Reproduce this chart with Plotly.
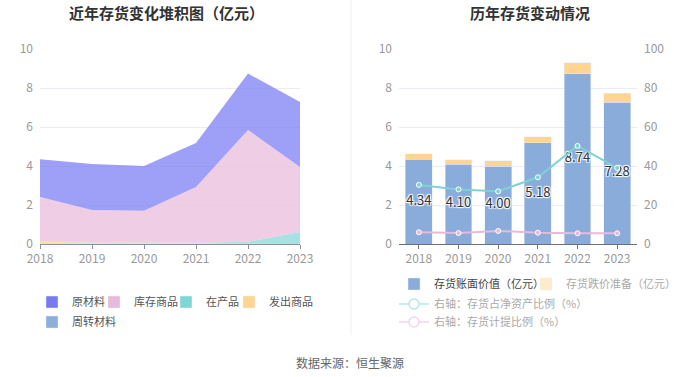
import plotly.graph_objects as go

years = ["2018", "2019", "2020", "2021", "2022", "2023"]

# left stacked area (亿元)
raw_material = [1.93, 2.36, 2.29, 2.26, 2.89, 3.33]     # 原材料
stock_goods = [2.26, 1.67, 1.65, 2.86, 5.74, 3.33]      # 库存商品
wip = [0.02, 0.01, 0.01, 0.04, 0.10, 0.62]              # 在产品
shipped = [0.13, 0.06, 0.05, 0.02, 0.01, 0.00]          # 发出商品
turnover = [0.00, 0.00, 0.00, 0.00, 0.00, 0.00]         # 周转材料

# right chart
book_value = [4.34, 4.10, 4.00, 5.18, 8.74, 7.28]       # 存货账面价值
impairment = [0.28, 0.22, 0.27, 0.32, 0.56, 0.45]       # 存货跌价准备
ratio_net_assets = [30.3, 28.0, 27.0, 34.2, 50.3, 39.0]  # 存货占净资产比例
provision_ratio = [6.0, 5.6, 6.7, 5.8, 5.5, 5.5]        # 存货计提比例

W, H = 700, 377
FONT = "Noto Sans CJK SC, sans-serif"


def px_x(p):
    return p / W


def px_y(p):
    return 1 - p / H


fig = go.Figure()

# ---------- left: stacked area ----------
area_specs = [
    ("发出商品", shipped, "rgba(255,213,145,0.75)"),
    ("在产品", wip, "rgba(127,214,214,0.7)"),
    ("库存商品", stock_goods, "rgba(236,196,224,0.85)"),
    ("原材料", raw_material, "rgba(124,128,243,0.75)"),
    ("周转材料", turnover, "rgba(139,174,219,0.7)"),
]
for name, vals, col in area_specs:
    fig.add_trace(go.Scatter(
        x=years, y=vals, name=name, mode="lines", stackgroup="one",
        line=dict(width=0, color=col), fillcolor=col, showlegend=False,
        xaxis="x", yaxis="y", hoverinfo="skip"))

tickfont = dict(size=12, color="#999999", family=FONT)
lfont = dict(size=11, color="#555", family=FONT)
legends = {}

# (name, colour, swatch centre x, centre y) in window pixels
legend_left = [
    ("原材料", "#7879f1", 50, 302),
    ("库存商品", "#e8b9dc", 112, 302),
    ("在产品", "#7fd6d6", 184, 302),
    ("发出商品", "#ffd591", 247, 302),
    ("周转材料", "#8baedb", 50, 322),
]
for i, (name, col, cx, cy) in enumerate(legend_left):
    key = "legend" if i == 0 else f"legend{i + 1}"
    legends[key] = dict(orientation="h", x=px_x(cx - 18), y=px_y(cy), xanchor="left", yanchor="middle",
                        font=lfont, bgcolor="rgba(0,0,0,0)")
    fig.add_trace(go.Bar(x=[None], y=[None], name=name, marker_color=col,
                         xaxis="x", yaxis="y", legend=key))

# ---------- right: bars + lines ----------
fig.add_trace(go.Bar(
    x=years, y=book_value, name="存货账面价值（亿元）", marker_color="#8aacdb",
    width=0.68, xaxis="x2", yaxis="y2", legend="legend6"))
legends["legend6"] = dict(orientation="h", x=px_x(412 - 18), y=px_y(284), xanchor="left", yanchor="middle",
                          font=dict(size=11, color="#444", family=FONT), bgcolor="rgba(0,0,0,0)")
fig.add_trace(go.Bar(
    x=years, y=impairment, name="存货跌价准备（亿元）", marker_color="#ffd591",
    width=0.68, xaxis="x2", yaxis="y2", showlegend=False))
fig.add_trace(go.Bar(x=[None], y=[None], name="存货跌价准备（亿元）",
                     marker_color="#ffebcc", xaxis="x", yaxis="y", legend="legend7"))
legends["legend7"] = dict(orientation="h", x=px_x(544 - 18), y=px_y(284), xanchor="left", yanchor="middle",
                          font=dict(size=11, color="#aaa", family=FONT), bgcolor="rgba(0,0,0,0)")

fig.add_trace(go.Scatter(
    x=years, y=ratio_net_assets, name="右轴：存货占净资产比例（%）", mode="lines+markers",
    line=dict(color="#7dd3d3", width=2),
    marker=dict(size=5, color="#7dd3d3", line=dict(color="#ffffff", width=1)),
    xaxis="x2", yaxis="y3", showlegend=False))
fig.add_trace(go.Scatter(
    x=years, y=provision_ratio, name="右轴：存货计提比例（%）", mode="lines+markers",
    line=dict(color="#e8b9dc", width=2),
    marker=dict(size=5, color="#e8b9dc", line=dict(color="#ffffff", width=1)),
    xaxis="x2", yaxis="y3", showlegend=False))
for j, (name, col, cy) in enumerate([("右轴：存货占净资产比例（%）", "#b5e8e8", 304),
                                     ("右轴：存货计提比例（%）", "#f4d5eb", 322)]):
    key = f"legend{8 + j}"
    legends[key] = dict(orientation="h", x=px_x(412 - 18), y=px_y(cy), xanchor="left", yanchor="middle",
                        font=dict(size=11, color="#aaa", family=FONT), bgcolor="rgba(0,0,0,0)")
    fig.add_trace(go.Scatter(
        x=[None], y=[None], name=name, mode="lines+markers",
        line=dict(color=col, width=1.5),
        marker=dict(size=10, symbol="circle", color="white", line=dict(color=col, width=1.5)),
        xaxis="x", yaxis="y", legend=key))

# value labels at the middle of the book-value bars
fig.add_trace(go.Scatter(
    x=years, y=[v / 2 for v in book_value], mode="text",
    text=[f"{v:.2f}" for v in book_value],
    textfont=dict(size=13, color="#333333", family=FONT,
                  shadow="1px 1px 1px #fff, -1px -1px 1px #fff, 1px -1px 1px #fff, -1px 1px 1px #fff"),
    xaxis="x2", yaxis="y2", showlegend=False, hoverinfo="skip"))

grid = "#e9ecf4"
ydom = [px_y(244), px_y(49)]

fig.update_layout(
    width=W, height=H, margin=dict(l=0, r=0, t=0, b=0, autoexpand=False),
    paper_bgcolor="white", plot_bgcolor="white",
    font=dict(family=FONT, color="#666"),
    barmode="stack",
    xaxis=dict(domain=[px_x(40), px_x(300)], type="category", range=[0, 5],
               showgrid=False, showline=True, linecolor="#8a8f9c", ticks="outside",
               ticklen=4, tickcolor="#8a8f9c", tickfont=tickfont, fixedrange=True),
    yaxis=dict(domain=ydom, range=[0, 10], dtick=2, showgrid=True, gridcolor=grid,
               zeroline=False, showline=False, tickfont=tickfont, ticklabelstandoff=6),
    xaxis2=dict(domain=[px_x(399), px_x(637)], type="category", range=[-0.5, 5.5],
                anchor="y2", showgrid=False, showline=True, linecolor="#6e7079", ticks="outside",
                ticklen=4, tickcolor="#6e7079", tickfont=tickfont),
    yaxis2=dict(domain=ydom, anchor="x2", range=[0, 10], dtick=2, showgrid=True, gridcolor=grid,
                zeroline=False, showline=False, tickfont=tickfont, ticklabelstandoff=6),
    yaxis3=dict(domain=ydom, anchor="x2", overlaying="y2", side="right", range=[0, 100], dtick=20,
                showgrid=False, zeroline=False, showline=False, tickfont=tickfont, ticklabelstandoff=6),
    annotations=[
        dict(text="<b>近年存货变化堆积图（亿元）</b>", x=px_x(166), y=px_y(12), xref="paper", yref="paper",
             xanchor="center", yanchor="middle", showarrow=False,
             font=dict(size=15, color="#333", family=FONT)),
        dict(text="<b>历年存货变动情况</b>", x=px_x(530), y=px_y(12), xref="paper", yref="paper",
             xanchor="center", yanchor="middle", showarrow=False,
             font=dict(size=15, color="#333", family=FONT)),
        dict(text="数据来源：恒生聚源", x=px_x(350), y=px_y(362), xref="paper", yref="paper",
             xanchor="center", yanchor="middle", showarrow=False,
             font=dict(size=12, color="#666", family=FONT)),
    ],
    shapes=[dict(type="line", xref="paper", yref="paper", x0=px_x(351), x1=px_x(351),
                 y0=px_y(335), y1=1, line=dict(color="#f0f0f0", width=1))],
    **legends,
)

# remove the browser's default 8px body margin so the 700x377 figure fills the window
fig.write_html("out.html", config={"displayModeBar": False},
               post_script="document.body.style.margin='0';")
